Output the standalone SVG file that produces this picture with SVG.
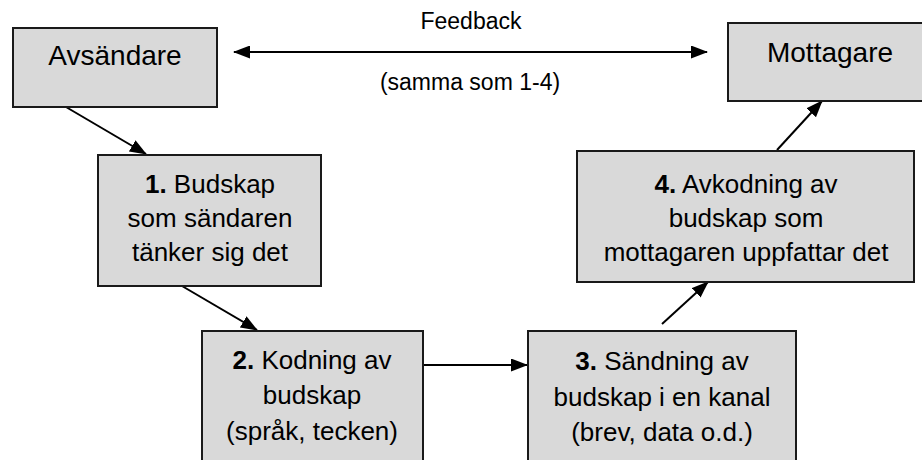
<svg xmlns="http://www.w3.org/2000/svg" width="922" height="460" viewBox="0 0 922 460">
  <style>
    .box { fill: #d9d9d9; stroke: #1a1a1a; stroke-width: 2; }
    .lbl { font-family: "Liberation Sans", Arial, sans-serif; fill: #000; text-anchor: middle; }
    .big { font-size: 28px; }
    .mid { font-size: 26px; }
    .fb { font-size: 23px; }
    .num { font-weight: bold; }
    .edge { stroke: #000; stroke-width: 2; fill: none; marker-end: url(#arrow); }
  </style>
  <defs>
    <marker id="arrow" markerUnits="userSpaceOnUse" markerWidth="18" markerHeight="14" refX="16" refY="6.5" orient="auto">
      <path d="M0,0 L17,6.5 L0,13 z" fill="#000"/>
    </marker>
    <marker id="arrowStart" markerUnits="userSpaceOnUse" markerWidth="18" markerHeight="14" refX="1" refY="6.5" orient="auto">
      <path d="M17,0 L0,6.5 L17,13 z" fill="#000"/>
    </marker>
  </defs>

  <rect width="922" height="460" fill="#fff"/>

  <g id="connectors">
    <line class="edge" x1="234" y1="52" x2="707" y2="52" marker-start="url(#arrowStart)"/>
    <line class="edge" x1="66" y1="107" x2="146" y2="154"/>
    <line class="edge" x1="182" y1="286" x2="257" y2="330"/>
    <line class="edge" x1="424" y1="365" x2="527" y2="365"/>
    <line class="edge" x1="662" y1="324" x2="708" y2="282"/>
    <line class="edge" x1="777" y1="150" x2="822" y2="101"/>
  </g>

  <g id="feedback-label">
    <text class="lbl fb" x="471" y="29">Feedback</text>
    <text class="lbl fb" x="470" y="90">(samma som 1-4)</text>
  </g>

  <g id="avsandare">
    <rect class="box" x="13" y="28" width="204" height="79"/>
    <text class="lbl big" x="115" y="65">Avsändare</text>
  </g>

  <g id="mottagare">
    <rect class="box" x="728" y="23" width="204" height="78"/>
    <text class="lbl big" x="830" y="62">Mottagare</text>
  </g>

  <g id="steg1">
    <rect class="box" x="98" y="155" width="223" height="131"/>
    <text class="lbl mid" x="210" y="193"><tspan class="num">1.</tspan> Budskap</text>
    <text class="lbl mid" x="210" y="227">som sändaren</text>
    <text class="lbl mid" x="210" y="261">tänker sig det</text>
  </g>

  <g id="steg2">
    <rect class="box" x="202" y="331" width="221" height="140"/>
    <text class="lbl mid" x="312" y="369"><tspan class="num">2.</tspan> Kodning av</text>
    <text class="lbl mid" x="312" y="404">budskap</text>
    <text class="lbl mid" x="312" y="440">(språk, tecken)</text>
  </g>

  <g id="steg3">
    <rect class="box" x="528" y="331" width="268" height="140"/>
    <text class="lbl mid" x="662" y="370"><tspan class="num">3.</tspan> Sändning av</text>
    <text class="lbl mid" x="662" y="406">budskap i en kanal</text>
    <text class="lbl mid" x="662" y="441">(brev, data o.d.)</text>
  </g>

  <g id="steg4">
    <rect class="box" x="577" y="151" width="337" height="131"/>
    <text class="lbl mid" x="746" y="193"><tspan class="num">4.</tspan> Avkodning av</text>
    <text class="lbl mid" x="746" y="227">budskap som</text>
    <text class="lbl mid" x="746" y="261">mottagaren uppfattar det</text>
  </g>
</svg>
